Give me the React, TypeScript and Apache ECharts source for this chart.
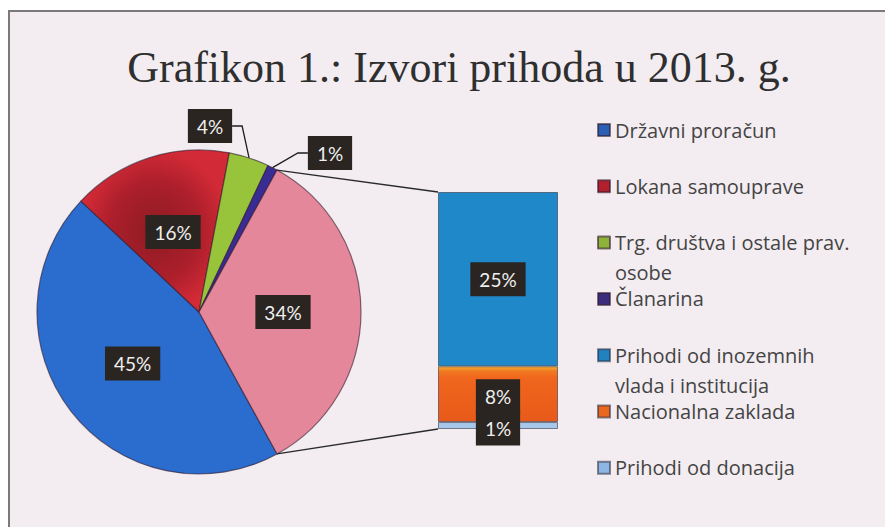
import React, { useEffect, useRef } from "react";
import * as echarts from "echarts";

const TITLE = "Grafikon 1.: Izvori prihoda u 2013. g.";
const pieNames = ["Državni proračun", "Lokana samouprave", "Trg. društva i ostale prav. osobe", "Članarina"];
const pieValues = [45, 16, 4, 1];
const pieColors = ["#2b6dcf", "#c0232f", "#98c43c", "#3a2c95"];
const otherName = "Ostalo";
const otherColor = "#e5879a";
const barNames = ["Prihodi od inozemnih vlada i institucija", "Nacionalna zaklada", "Prihodi od donacija"];
const barValues = [25, 8, 1];
const barColors = ["#1f88c8", "#f0661d", "#a6c7ea"];
const legendColors = ["#2a5fb4", "#b3202d", "#8fb23a", "#3b2c7e", "#2182c0", "#ea671f", "#8fb6e2"];
const legendLabels: Record<string, string> = {
  "Trg. društva i ostale prav. osobe": "Trg. društva i ostale prav.\nosobe",
  "Prihodi od inozemnih vlada i institucija": "Prihodi od inozemnih\nvlada i institucija",
};

const PIE_CX = 199;
const PIE_CY = 312;
const PIE_R = 162;
const GRID = { left: 438, top: 192, width: 120, height: 237 };
const LEGEND_LEFT = 597;
const LEGEND_TOP0 = 130;
const LEGEND_GAP = 56.3;
const LEGEND_LINE = 30;

export default function App() {
  const ref = useRef<HTMLDivElement>(null);
  useEffect(() => {
    if (!ref.current) return;
    const chart = echarts.init(ref.current, null, { renderer: "svg" });
    const otherValue = barValues.reduce((a, b) => a + b, 0);
    const total = pieValues.reduce((a, b) => a + b, 0) + otherValue;
    const otherFrac = otherValue / total;
    const startAngle = 360 - otherFrac * 180;

    const labelBox = {
      color: "#efefef",
      backgroundColor: "#2a2521",
      fontFamily: "Lato",
      fontSize: 19,
      padding: [8, 9, 7, 9],
      formatter: "{c}%",
    };

    const pieData = pieNames.map((n, i) => {
      const outside = pieValues[i] < 10;
      const base: any = pieColors[i];
      const color =
        i === 1
          ? {
              type: "radial",
              x: 0.5,
              y: 0.5,
              r: 0.5,
              colorStops: [
                { offset: 0, color: "#8e1b24" },
                { offset: 0.6, color: "#ac1f2b" },
                { offset: 1, color: "#d22a36" },
              ],
            }
          : base;
      return {
        name: n,
        value: pieValues[i],
        itemStyle: { color },
        label: outside ? { position: "outside" } : { position: "inside" },
        labelLine: { show: outside },
      };
    });
    pieData.push({
      name: otherName,
      value: otherValue,
      itemStyle: { color: otherColor },
      label: { position: "inside" },
      labelLine: { show: false },
    } as any);

    const allLegend = [...pieNames, ...barNames];
    const legends = allLegend.map((name, i) => {
      const multi = !!legendLabels[name];
      const yc = LEGEND_TOP0 + i * LEGEND_GAP;
      return {
        orient: "vertical",
        left: LEGEND_LEFT,
        top: yc - (multi ? LEGEND_LINE * 1.5 : LEGEND_LINE / 2),
        padding: 0,
        itemWidth: 12,
        itemHeight: 12,
        icon: "rect",
        selectedMode: false,
        data: [{ name, itemStyle: { color: legendColors[i] } }],
        // multi-line entries: a blank first line keeps the marker on the first text line
        formatter: (n: string) => (legendLabels[n] ? "\n" + legendLabels[n] : n),
        textStyle: {
          fontFamily: "Open Sans",
          fontSize: 20,
          lineHeight: LEGEND_LINE,
          color: "#444444",
        },
      };
    });

    const barSeriesOrder = [2, 1, 0];
    const barSeries = barSeriesOrder.map((idx) => ({
      type: "bar",
      name: barNames[idx],
      stack: "other",
      barCategoryGap: "0%",
      barWidth: "100%",
      data: [barValues[idx]],
      itemStyle: {
        color:
          idx === 1
            ? {
                type: "linear",
                x: 0,
                y: 0,
                x2: 0,
                y2: 1,
                colorStops: [
                  { offset: 0, color: "#f6b030" },
                  { offset: 0.08, color: "#f07a22" },
                  { offset: 0.2, color: "#f0661d" },
                  { offset: 1, color: "#e85a1a" },
                ],
              }
            : barColors[idx],
        borderColor: "rgba(40,40,60,0.55)",
        borderWidth: 1,
      },
      label: {
        show: true,
        position: "inside",
        offset: idx === 1 ? [0, 2] : idx === 2 ? [0, 3] : [0, 0],
        ...labelBox,
      },
      emphasis: { disabled: true },
    }));

    chart.setOption({
      animation: false,
      backgroundColor: "#ffffff",
      title: {
        text: TITLE,
        left: 454,
        top: 40,
        textAlign: "center",
        textStyle: { fontFamily: "Liberation Serif", fontSize: 44, fontWeight: "normal", color: "#2f2f2f" },
      },
      legend: legends,
      grid: { left: GRID.left, top: GRID.top, width: GRID.width, height: GRID.height, containLabel: false },
      xAxis: { type: "category", data: [""], show: false },
      yAxis: { type: "value", min: 0, max: otherValue, show: false },
      graphic: [
        {
          id: "bg",
          type: "rect",
          z: -10,
          silent: true,
          shape: { x: 9, y: 11, width: 900, height: 600 },
          style: { fill: "#f3edf1", stroke: "#7a7a7a", lineWidth: 2 },
        },
      ],
      series: [
        {
          type: "pie",
          name: "prihodi",
          center: [PIE_CX, PIE_CY],
          radius: PIE_R,
          startAngle,
          clockwise: true,
          avoidLabelOverlap: false,
          data: pieData,
          itemStyle: { borderColor: "rgba(50,25,45,0.6)", borderWidth: 1.2 },
          label: { show: true, ...labelBox },
          labelLine: { show: false, length: 8, length2: 10, lineStyle: { color: "#1e1e1e", width: 1.3 } },
          labelLayout: (p: any) => {
            if (p.dataIndex === 2) return { x: 210, y: 126, align: "center", verticalAlign: "middle" };
            if (p.dataIndex === 3) return { x: 330, y: 153, align: "center", verticalAlign: "middle" };
            return {};
          },
          emphasis: { disabled: true },
        },
        ...barSeries,
      ],
    });

    // connector lines from the "other" slice to the bar
    const half = (otherFrac * 360) / 2;
    const rad = (half * Math.PI) / 180;
    const pTop = [PIE_CX + PIE_R * Math.cos(rad), PIE_CY - PIE_R * Math.sin(rad)];
    const pBot = [PIE_CX + PIE_R * Math.cos(rad), PIE_CY + PIE_R * Math.sin(rad)];
    const yTop = chart.convertToPixel({ yAxisIndex: 0 }, otherValue) as number;
    const yBot = chart.convertToPixel({ yAxisIndex: 0 }, 0) as number;
    const xLeft = GRID.left;
    chart.setOption({
      graphic: [
        {
          id: "l1",
          type: "line",
          z: 5,
          silent: true,
          shape: { x1: pTop[0], y1: pTop[1], x2: xLeft, y2: yTop },
          style: { stroke: "#2a2a2a", lineWidth: 1.3 },
        },
        {
          id: "l2",
          type: "line",
          z: 5,
          silent: true,
          shape: { x1: pBot[0], y1: pBot[1], x2: xLeft, y2: yBot },
          style: { stroke: "#2a2a2a", lineWidth: 1.3 },
        },
      ],
    });

    return () => chart.dispose();
  }, []);
  return <div ref={ref} style={{ position: "absolute", left: 0, top: 0, width: 885, height: 527 }} />;
}
